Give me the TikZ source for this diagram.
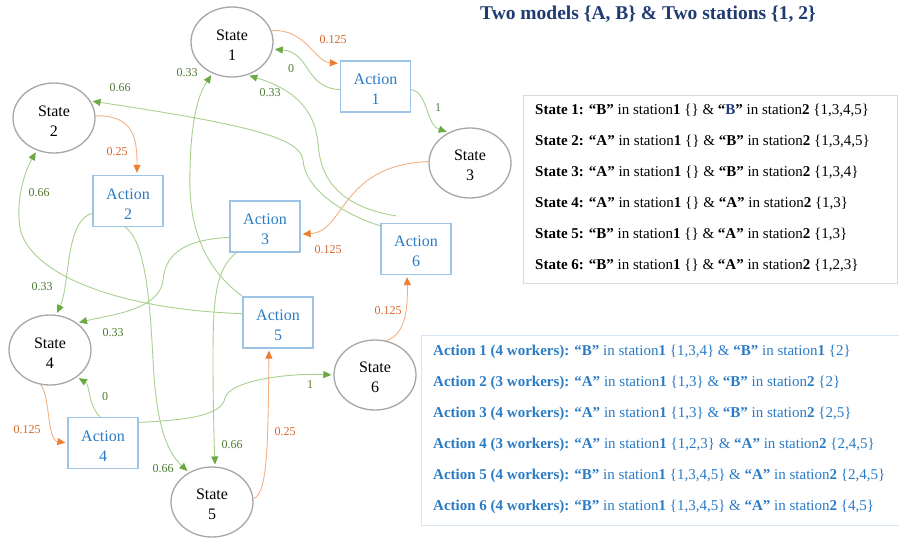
\documentclass[tikz,border=0pt]{standalone}
\usepackage{fontspec}
\setmainfont{Liberation Serif}
\usetikzlibrary{shapes.geometric,arrows.meta}
\definecolor{stgray}{HTML}{A6A6A6}
\definecolor{acblue}{HTML}{2A7BC5}
\definecolor{acbord}{HTML}{9DC3E6}
\definecolor{navy}{HTML}{1F3B73}
\definecolor{glight}{HTML}{A9D18E}
\definecolor{gdark}{HTML}{6BAA42}
\definecolor{glab}{HTML}{4F7A33}
\definecolor{olight}{HTML}{F4B183}
\definecolor{odark}{HTML}{ED7D31}
\definecolor{olab}{HTML}{D9662A}
\definecolor{sbord}{HTML}{D9D9D9}
\definecolor{abord}{HTML}{D6E4F2}
\newcommand{\topstrut}{\rule{0pt}{16pt}}
\begin{document}
\begin{tikzpicture}[x=1pt,y=-1pt,
 statenode/.style={ellipse, draw=stgray, line width=1.3pt, minimum width=82pt, minimum height=70pt, inner sep=0pt, align=center, font=\fontsize{16}{20}\selectfont},
 actnode/.style={rectangle, draw=acbord, line width=1.3pt, minimum width=70pt, minimum height=51pt, inner sep=0pt, align=center, text=acblue, font=\fontsize{16}{20}\selectfont},
 gedge/.style={draw=glight, line width=0.9pt, -{Triangle[length=8pt,width=7pt,color=gdark]}, shorten >=2pt},
 oedge/.style={draw=olight, line width=0.9pt, -{Triangle[length=8pt,width=7pt,color=odark]}, shorten >=2pt},
 glabel/.style={text=glab, font=\fontsize{12}{14}\selectfont, inner sep=0pt},
 olabel/.style={text=olab, font=\fontsize{12}{14}\selectfont, inner sep=0pt},
 legline/.style={anchor=west, inner sep=0pt, font=\fontsize{15}{18}\selectfont},
 legbox/.style={draw, line width=0.8pt, inner sep=0pt, anchor=north west},
]
\useasboundingbox[fill=white] (0,0) rectangle (899,538);

% title
\node[text=navy, font=\bfseries\fontsize{19.5}{22}\selectfont] (title) at (648,14) {Two models \{A, B\} \& Two stations \{1, 2\}};

% states
\node[statenode] (s1) at (232,42) {\topstrut State\\1};
\node[statenode] (s2) at (54,118) {\topstrut State\\2};
\node[statenode] (s3) at (470,163) {\topstrut State\\3};
\node[statenode] (s4) at (50,350) {\topstrut State\\4};
\node[statenode] (s5) at (212,502) {\topstrut State\\5};
\node[statenode] (s6) at (375,375) {\topstrut State\\6};
% actions
\node[actnode] (a1) at (375.5,86.5) {\topstrut Action\\1};
\node[actnode] (a2) at (128,201) {\topstrut Action\\2};
\node[actnode] (a3) at (265,226.5) {\topstrut Action\\3};
\node[actnode] (a4) at (103,443) {\topstrut Action\\4};
\node[actnode] (a5) at (278,322.5) {\topstrut Action\\5};
\node[actnode] (a6) at (416,249) {\topstrut Action\\6};

% orange edges
\draw[oedge] (s1.16) .. controls (305,28) and (315,62) .. ([yshift=-3pt]a1.north west);
\draw[oedge] (s2.3) .. controls (135,115) and (137,140) .. ([xshift=9pt]a2.north);
\draw[oedge] (s3.178) .. controls (340,165) and (345,232) .. (a3.-12);
\draw[oedge] (s4.-105) .. controls (50,395) and (47,440) .. (a4.west);
\draw[oedge] (s5.5) .. controls (268,495) and (268,440) .. ([xshift=-9pt]a5.south);
\draw[oedge] (s6.72) .. controls (405,335) and (408,310) .. ([xshift=-9pt]a6.south);

% green edges
\draw[gedge] (a1.185) .. controls (305,88) and (310,52) .. (s1.-10);
\draw[gedge] (a1.-5) .. controls (428,92) and (426,125) .. (s3.125);
\draw[gedge] (a2.199) .. controls (65,220) and (70,285) .. (s4.80);
\draw[gedge] ([xshift=-3pt]a2.south) .. controls (145,240) and (150,300) .. (153,360) .. controls (156,420) and (165,450) .. (s5.128);
\draw[gedge] (a3.197) .. controls (170,240) and (165,265) .. (163,280) .. controls (160,310) and (110,315) .. (s4.45);
\draw[gedge] ([xshift=7pt]a3.south west) .. controls (215,270) and (213,300) .. (213,360) .. controls (213,400) and (214,440) .. (s5.85);
\draw[gedge] ([xshift=-3pt]a4.north) .. controls (88,405) and (90,385) .. (s4.-45);
\draw[gedge] (a4.30) .. controls (190,420) and (222,415) .. (225,398) .. controls (230,380) and (290,373) .. (s6.west);
\draw[gedge] (a5.north west) .. controls (200,265) and (188,220) .. (190,170) .. controls (191,120) and (198,95) .. (s1.-122);
\draw[gedge] (a5.166) .. controls (130,310) and (40,280) .. (22,235) .. controls (15,215) and (20,180) .. (s2.-118);
\draw[gedge] ([xshift=-20pt,yshift=7pt]a6.north) .. controls (330,205) and (320,170) .. (318,143) .. controls (314,100) and (280,85) .. (s1.-65);
\draw[gedge] (a6.147) .. controls (345,215) and (305,190) .. (303,160) .. controls (300,138) and (250,125) .. (s2.25);

% labels
\node[olabel] (lo1) at (333,40) {0.125};
\node[olabel] (lo2) at (117,152) {0.25};
\node[olabel] (lo3) at (328,250) {0.125};
\node[olabel] (lo4) at (27,430) {0.125};
\node[olabel] (lo5) at (285,432) {0.25};
\node[olabel] (lo6) at (388,311) {0.125};
\node[glabel] (lg1) at (291,69) {0};
\node[glabel] (lg2) at (438,108) {1};
\node[glabel] (lg3) at (187,73) {0.33};
\node[glabel] (lg4) at (270,93) {0.33};
\node[glabel] (lg5) at (120,88) {0.66};
\node[glabel] (lg6) at (39,193) {0.66};
\node[glabel] (lg7) at (42,287) {0.33};
\node[glabel] (lg8) at (113,333) {0.33};
\node[glabel] (lg9) at (163,469) {0.66};
\node[glabel] (lg10) at (232,445) {0.66};
\node[glabel] (lg11) at (105,397) {0};
\node[glabel] (lg12) at (310,385) {1};

% legend boxes
\node[legbox, draw=sbord, minimum width=374pt, minimum height=188pt] (sbox) at (523,95) {};
\node[legbox, draw=abord, minimum width=482pt, minimum height=190pt] (abox) at (421,335) {};

\node[legline] (st1) at (535,110) {\textbf{State 1:} \textbf{“B”} in station\textbf{1} \{\} \& \textbf{“}\textcolor{navy}{\textbf{B}}\textbf{”} in station\textbf{2} \{1,3,4,5\}};
\node[legline] (st2) at (535,141) {\textbf{State 2:} \textbf{“A”} in station\textbf{1} \{\} \& \textbf{“B”} in station\textbf{2} \{1,3,4,5\}};
\node[legline] (st3) at (535,172) {\textbf{State 3:} \textbf{“A”} in station\textbf{1} \{\} \& \textbf{“B”} in station\textbf{2} \{1,3,4\}};
\node[legline] (st4) at (535,203) {\textbf{State 4:} \textbf{“A”} in station\textbf{1} \{\} \& \textbf{“A”} in station\textbf{2} \{1,3\}};
\node[legline] (st5) at (535,234) {\textbf{State 5:} \textbf{“B”} in station\textbf{1} \{\} \& \textbf{“A”} in station\textbf{2} \{1,3\}};
\node[legline] (st6) at (535,265) {\textbf{State 6:} \textbf{“B”} in station\textbf{1} \{\} \& \textbf{“A”} in station\textbf{2} \{1,2,3\}};

\begin{scope}[every node/.append style={text=acblue}]
\node[legline] (ac1) at (433,352) {\textbf{Action 1 (4 workers):} \textbf{“B”} in station\textbf{1} \{1,3,4\} \& \textbf{“B”} in station\textbf{1} \{2\}};
\node[legline] (ac2) at (433,383) {\textbf{Action 2 (3 workers):} \textbf{“A”} in station\textbf{1} \{1,3\} \& \textbf{“B”} in station\textbf{2} \{2\}};
\node[legline] (ac3) at (433,414) {\textbf{Action 3 (4 workers):} \textbf{“A”} in station\textbf{1} \{1,3\} \& \textbf{“B”} in station\textbf{2} \{2,5\}};
\node[legline] (ac4) at (433,445) {\textbf{Action 4 (3 workers):} \textbf{“A”} in station\textbf{1} \{1,2,3\} \& \textbf{“A”} in station\textbf{2} \{2,4,5\}};
\node[legline] (ac5) at (433,476) {\textbf{Action 5 (4 workers):} \textbf{“B”} in station\textbf{1} \{1,3,4,5\} \& \textbf{“A”} in station\textbf{2} \{2,4,5\}};
\node[legline] (ac6) at (433,507) {\textbf{Action 6 (4 workers):} \textbf{“B”} in station\textbf{1} \{1,3,4,5\} \& \textbf{“A”} in station\textbf{2} \{4,5\}};
\end{scope}
\end{tikzpicture}
\end{document}
